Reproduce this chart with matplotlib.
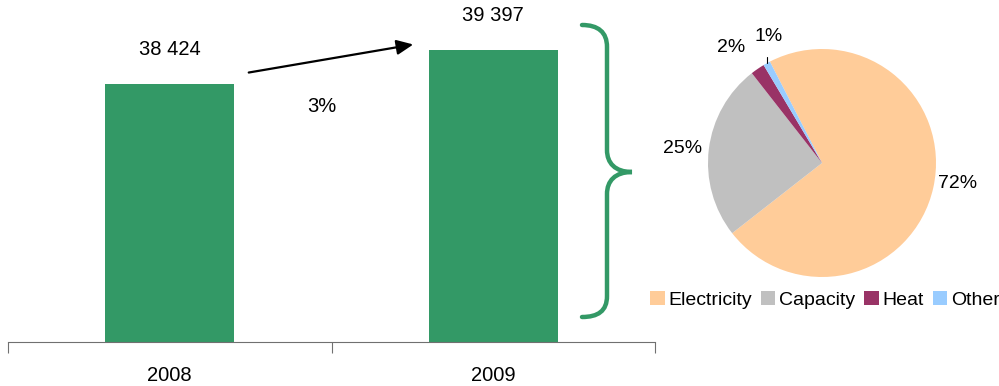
import matplotlib
matplotlib.use('Agg')
import matplotlib.pyplot as plt
from matplotlib.path import Path
from matplotlib.patches import PathPatch, FancyArrowPatch
import numpy as np

plt.rcParams['font.family'] = ['Liberation Sans', 'DejaVu Sans']

# datos
anios = ['2008', '2009']
totales = [38424, 39397]
etiquetas_totales = ['38 424', '39 397']
crecimiento = '3%'

componentes = ['Electricity', 'Capacity', 'Heat', 'Other']
porcentajes = [72, 25, 2, 1]
colores_pie = ['#FFCC99', '#C0C0C0', '#993366', '#99CCFF']
verde = '#339966'

W, H = 999, 386
fig = plt.figure(figsize=(W / 100, H / 100), dpi=100)


def px(x, y):
    # pixeles (origen arriba-izquierda) -> coordenadas de figura
    return x / W, 1 - y / H


# Gráfico de barras
ax = fig.add_axes([8 / W, (H - 342) / H, 647 / W, 332 / H])
x = np.arange(len(anios))
ax.bar(x, totales, width=0.4, color=verde)
ax.set_xlim(-0.5, 1.5)
ax.set_ylim(31040, 40540)
for s in ['top', 'right', 'left']:
    ax.spines[s].set_visible(False)
ax.spines['bottom'].set_color('#707070')
ax.set_yticks([])
ax.set_xticks([-0.5, 0.5, 1.5])
ax.set_xticklabels([])
ax.tick_params(axis='x', which='major', length=8, color='#707070', direction='out')
ax.set_xticks(x, minor=True)
ax.set_xticklabels(anios, minor=True, fontsize=14.5)
ax.tick_params(axis='x', which='minor', length=0, pad=17)

for xi, v, lab in zip(x, totales, etiquetas_totales):
    ax.annotate(lab, (xi, v), xytext=(0, 24.5), textcoords='offset points',
                ha='center', va='center', fontsize=14.5)

fig.text(*px(322, 106), crecimiento, ha='center', va='center', fontsize=14.5)

flecha = FancyArrowPatch(px(246, 73), px(416, 44), transform=fig.transFigure,
                         arrowstyle='-|>,head_length=10,head_width=4.5',
                         color='black', lw=1.6, mutation_scale=1)
fig.patches.append(flecha)

# llave
pts = [(582, 25), (598, 25), (607, 32), (607, 47),
       (607, 150),
       (607, 163), (615, 172), (632, 172),
       (615, 172), (607, 181), (607, 194),
       (607, 296),
       (607, 311), (598, 317), (582, 317)]
codes = [Path.MOVETO, Path.CURVE4, Path.CURVE4, Path.CURVE4,
         Path.LINETO,
         Path.CURVE4, Path.CURVE4, Path.CURVE4,
         Path.CURVE4, Path.CURVE4, Path.CURVE4,
         Path.LINETO,
         Path.CURVE4, Path.CURVE4, Path.CURVE4]
llave = PathPatch(Path([px(a, b) for a, b in pts], codes), transform=fig.transFigure,
                  fill=False, edgecolor=verde, lw=3.2, capstyle='round')
fig.patches.append(llave)

# Gráfico circular
ax2 = fig.add_axes([708 / W, (H - 277) / H, 228 / W, 228 / H])
cunas, _ = ax2.pie(porcentajes, colors=colores_pie, startangle=117.2,
                   counterclock=False, radius=1)
ax2.set_xlim(-1, 1)
ax2.set_ylim(-1, 1)

pos_etiquetas = [(1.19, -0.18), (-1.22, 0.13), (-0.8, 1.01)]
for (tx, ty), p in zip(pos_etiquetas, porcentajes[:3]):
    ax2.text(tx, ty, f'{p}%', ha='center', va='center', fontsize=14)

c = cunas[3]
ang = np.deg2rad((c.theta1 + c.theta2) / 2)
ax2.annotate(f'{porcentajes[3]}%', (np.cos(ang), np.sin(ang)),
             xytext=(-0.47, 1.11), ha='center', va='center', fontsize=14,
             arrowprops=dict(arrowstyle='-', color='black', lw=0.8,
                             shrinkA=7, shrinkB=0,
                             connectionstyle='angle,angleA=0,angleB=90,rad=0'))

fig.legend(cunas, componentes, loc='center', bbox_to_anchor=px(825, 300),
           ncol=4, frameon=False, fontsize=14, handlelength=0.75, handleheight=0.75,
           handletextpad=0.2, columnspacing=0.45)

fig.savefig('out.png', dpi=100)
